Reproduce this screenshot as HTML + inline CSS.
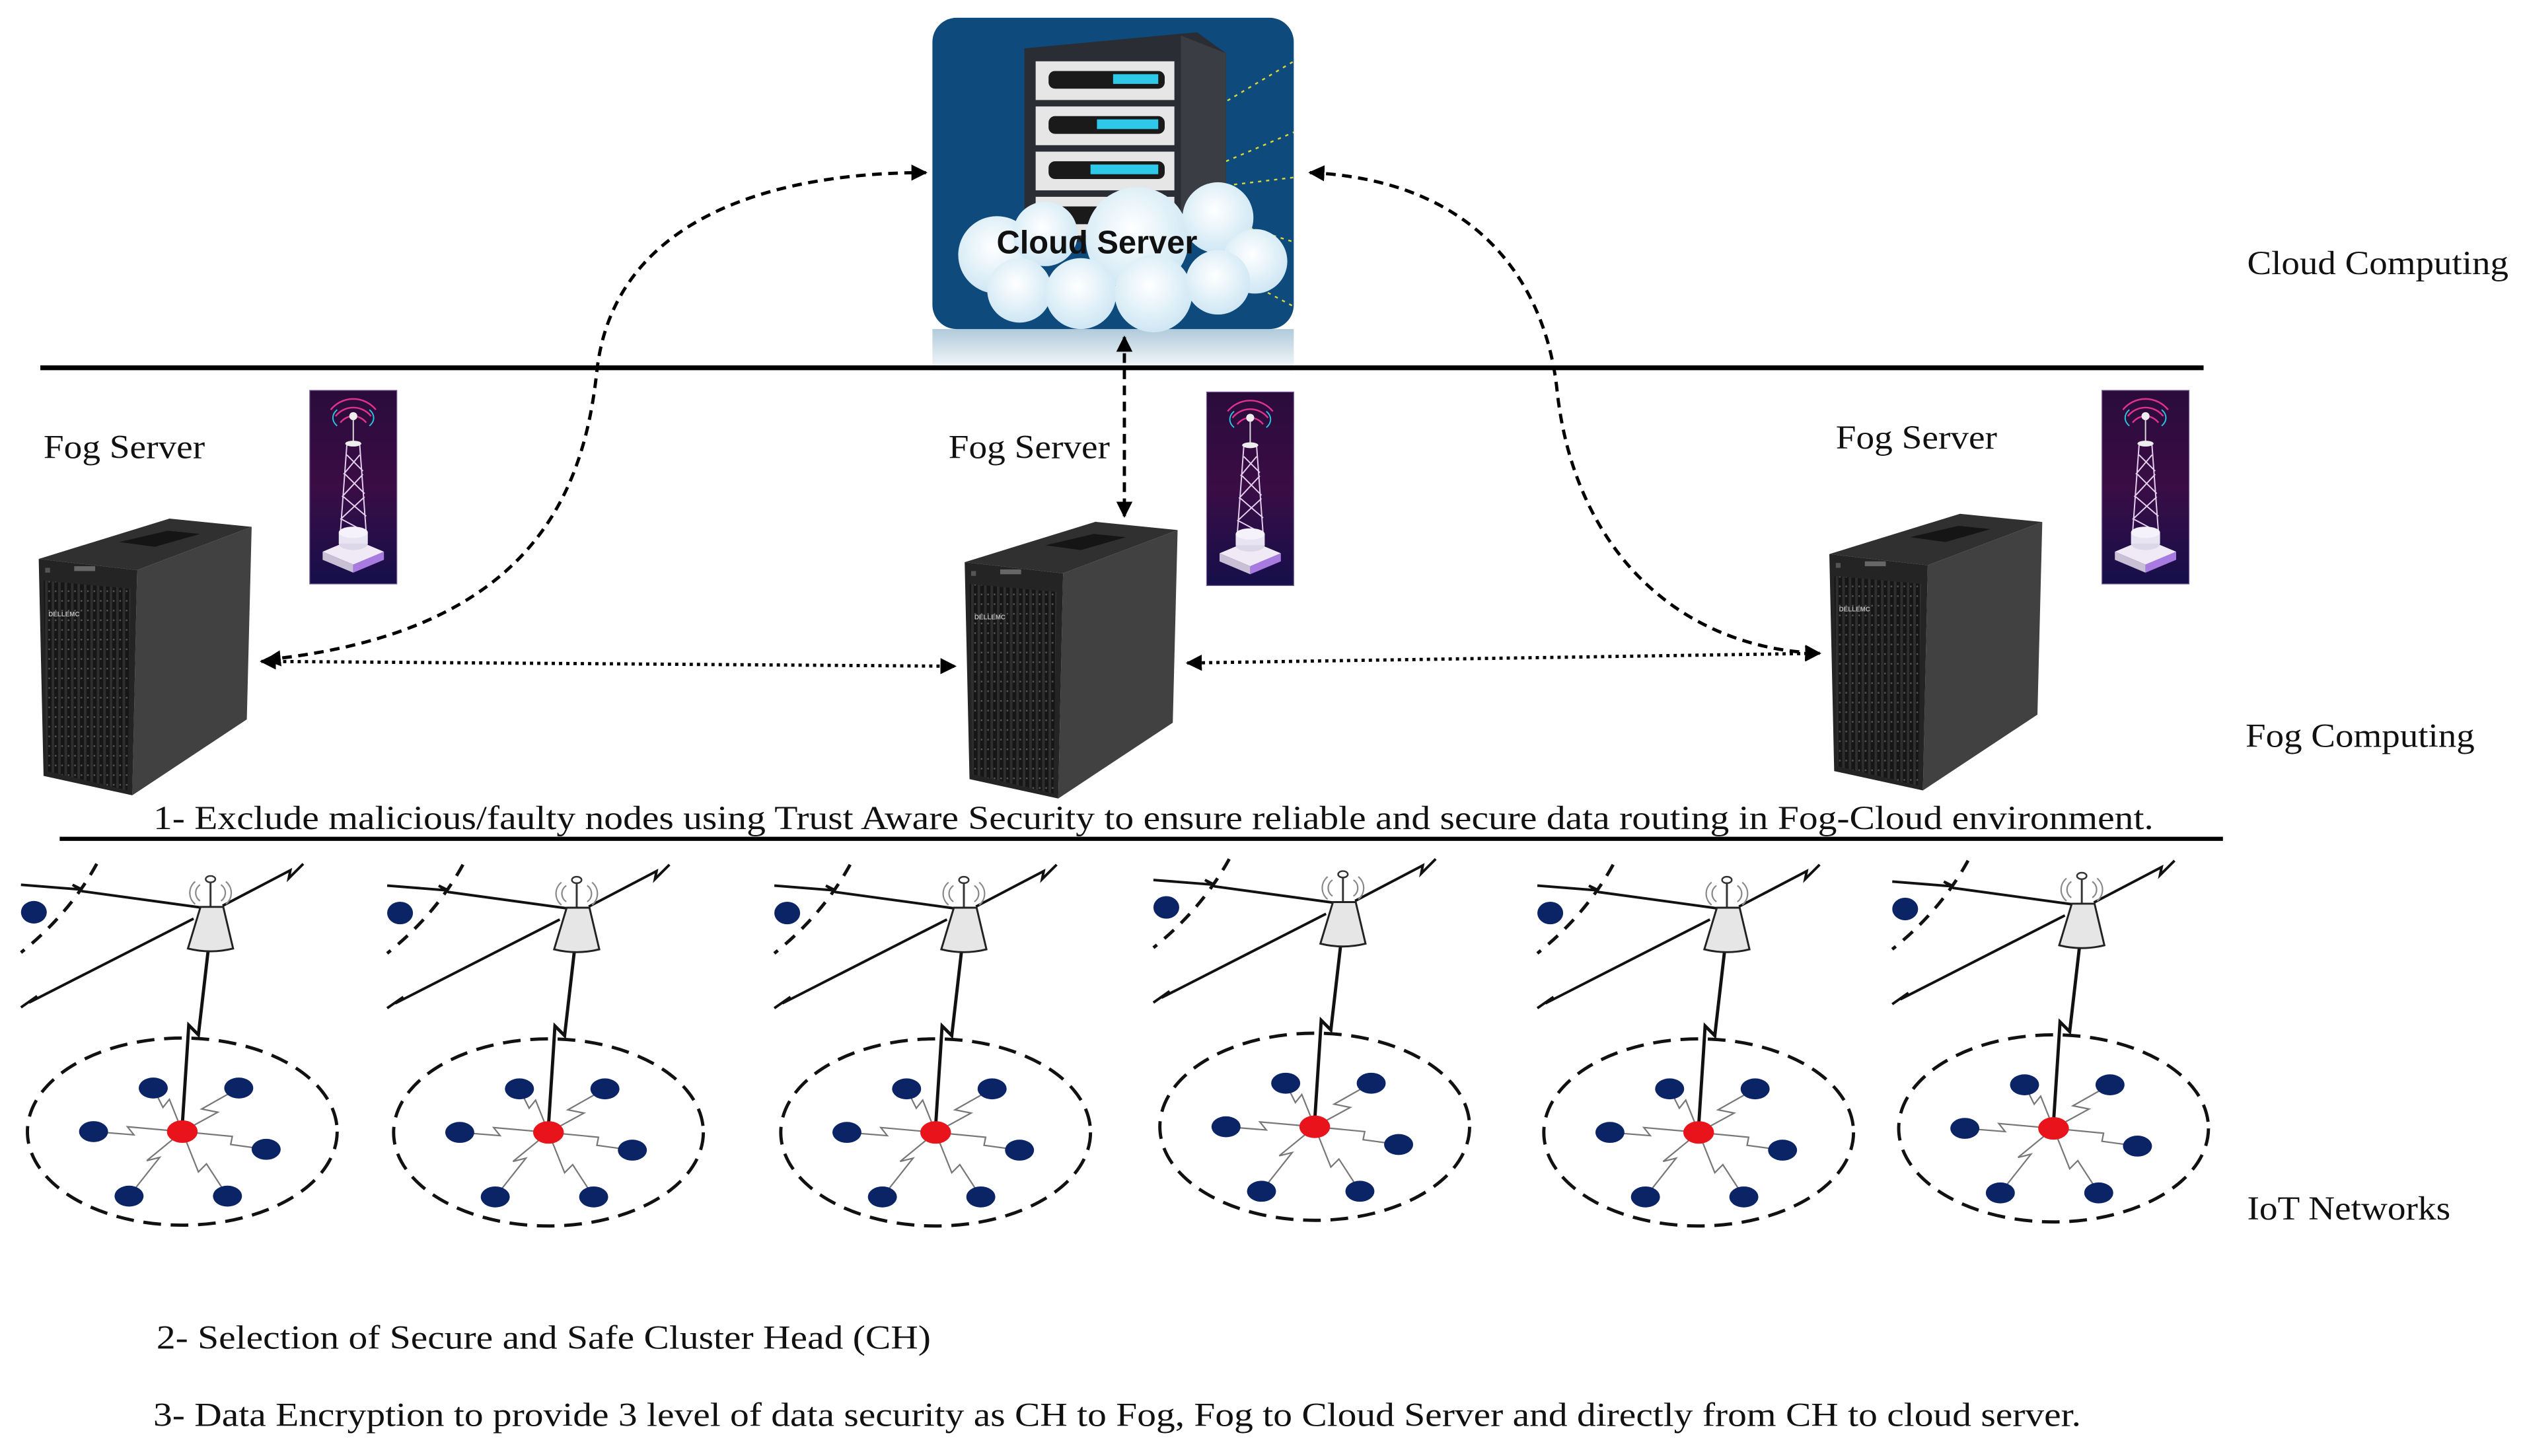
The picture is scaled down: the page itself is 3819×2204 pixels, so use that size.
<!DOCTYPE html>
<html><head><meta charset="utf-8"><style>html,body{margin:0;padding:0;background:#fff}svg{display:block}</style></head>
<body>
<svg xmlns="http://www.w3.org/2000/svg" width="3819" height="2204" viewBox="0 0 1564 902.6" preserveAspectRatio="none">
<defs>
<marker id="ah" viewBox="0 0 10 10" refX="9" refY="5" markerWidth="5" markerHeight="5" orient="auto-start-reverse"><path d="M0,0 L10,5 L0,10 z" fill="#000"/></marker>
<linearGradient id="tw" x1="0" y1="0" x2="0" y2="1"><stop offset="0" stop-color="#2a0b3c"/><stop offset="0.5" stop-color="#3a0d45"/><stop offset="1" stop-color="#150f4a"/></linearGradient>
<linearGradient id="refl" x1="0" y1="0" x2="0" y2="1"><stop offset="0" stop-color="#8fb4cc"/><stop offset="1" stop-color="#ffffff"/></linearGradient>
<radialGradient id="cl" cx="0.45" cy="0.4" r="0.7"><stop offset="0" stop-color="#ffffff"/><stop offset="1" stop-color="#c6e3f2"/></radialGradient>
<pattern id="grille" width="4" height="6" patternUnits="userSpaceOnUse"><rect width="4" height="6" fill="#161616"/><rect x="0" width="1.6" height="6" fill="#2e2e2e"/><rect x="2" y="2" width="1" height="1" fill="#555"/></pattern>

<g id="server">
  <polygon points="0,24.5 81,-0.5 132,4.6 61,31.4" fill="#303030"/>
  <polygon points="50,14 80,7 100,9 72,17" fill="#151515"/>
  <polygon points="61,31.4 132,4.6 129,124 58,171" fill="#414141"/>
  <polygon points="0,24.5 61,31.4 58,171 3,159" fill="#242424"/>
  <polygon points="3,38 57,43 55,168 5,156" fill="url(#grille)"/>
  <rect x="22" y="29" width="13" height="3" fill="#666"/>
  <rect x="4" y="30" width="3" height="3" fill="#555"/>
  <text x="6" y="60" font-family="Liberation Sans, sans-serif" font-size="4" fill="#bbb" font-weight="bold">DELLEMC</text>
</g>

<g id="tower">
  <rect x="0" y="0" width="54" height="120" fill="url(#tw)" stroke="#7a5a9a" stroke-width="0.5"/>
  <path d="M19,20 a10,10 0 0 1 16,0 M16,16 a14,14 0 0 1 22,0 M13,12 a18,18 0 0 1 28,0" stroke="#e0328c" stroke-width="1" fill="none"/>
  <path d="M17,22 a12,8 0 0 1 0,-10 M37,22 a12,8 0 0 0 0,-10" stroke="#29c5e0" stroke-width="0.8" fill="none"/>
  <circle cx="27" cy="16" r="2.5" fill="#eee"/>
  <line x1="27" y1="18" x2="27" y2="32" stroke="#ddd" stroke-width="0.8"/>
  <ellipse cx="27" cy="33" rx="5" ry="1.8" fill="#eee"/>
  <path d="M23,34 L19,88 M31,34 L35,88 M23,40 L33,50 M31,40 L21,52 M22,52 L34,64 M33,52 L20,66 M21,66 L35,78 M34,66 L19,80 M20,80 L35,88" stroke="#e6d0f0" stroke-width="0.8" fill="none"/>
  <polygon points="8,100 27,92 46,100 27,108" fill="#efeaf5"/>
  <polygon points="8,100 27,108 27,113 8,105" fill="#c9c0d6"/>
  <polygon points="46,100 27,108 27,113 46,105" fill="#a77be0"/>
  <ellipse cx="27" cy="95" rx="9" ry="4" fill="#dcd8ea"/>
  <rect x="18" y="88" width="18" height="7" fill="#e8e4f2"/>
  <ellipse cx="27" cy="88" rx="9" ry="3.5" fill="#f5f2fb"/>
</g>

<g id="cluster">
  <ellipse cx="0" cy="0" rx="96" ry="58" fill="none" stroke="#111" stroke-width="2" stroke-dasharray="11,6"/>
  <path d="M-53,-166 Q-70,-135 -100,-111" fill="none" stroke="#111" stroke-width="2" stroke-dasharray="8,6"/>
  <ellipse cx="-92" cy="-136" rx="8" ry="7" fill="#0b2466"/>
  <path d="M11,-139 L-62,-149 L-68,-153 L-62,-150 L-100,-153" fill="none" stroke="#111" stroke-width="1.6"/>
  <path d="M7,-132 L-95,-80 L-90,-84 L-100,-77" fill="none" stroke="#111" stroke-width="1.6"/>
  <path d="M25,-140 L67,-162 L66,-157 L75,-166" fill="none" stroke="#111" stroke-width="1.6"/>
  <path d="M16,-112 L10,-60 L4,-66 L3,-50 L0,-4" fill="none" stroke="#111" stroke-width="2"/>
  <path d="M11,-143 a6,6 0 0 1 0,-10 M8,-141 a9,9 0 0 1 0,-14 M24,-143 a6,6 0 0 0 0,-10 M27,-141 a9,9 0 0 0 0,-14" fill="none" stroke="#888" stroke-width="0.9"/>
  <line x1="17.5" y1="-155" x2="17.5" y2="-139" stroke="#333" stroke-width="1.2"/>
  <ellipse cx="17.5" cy="-156.5" rx="3" ry="2" fill="#fff" stroke="#333" stroke-width="1"/>
  <path d="M11.3,-139.3 L25.4,-139.3 L31.5,-113.5 Q17.5,-110 3.5,-113.5 Z" fill="#e6e6e6" stroke="#222" stroke-width="1.2"/>
  <g stroke="#777" stroke-width="0.9" fill="none">
    <path d="M-18,-27 L-12,-15 L-8,-20 L0,0"/>
    <path d="M35,-27 L12,-14 L22,-12 L0,0"/>
    <path d="M-55,0 L-30,2 L-34,-3 L0,0"/>
    <path d="M52,11 L30,8 L31,3 L0,0"/>
    <path d="M-33,40 L-14,16 L-22,18 L0,0"/>
    <path d="M28,40 L15,20 L10,25 L0,0"/>
  </g>
  <g fill="#0b2466">
    <ellipse cx="-18" cy="-27" rx="9" ry="6.5"/>
    <ellipse cx="35" cy="-27" rx="9" ry="6.5"/>
    <ellipse cx="-55" cy="0" rx="9" ry="6.5"/>
    <ellipse cx="52" cy="11" rx="9" ry="6.5"/>
    <ellipse cx="-33" cy="40" rx="9" ry="6.5"/>
    <ellipse cx="28" cy="40" rx="9" ry="6.5"/>
  </g>
  <ellipse cx="0" cy="0" rx="9.5" ry="7" fill="#e8131b"/>
</g>
</defs>

<rect x="0" y="0" width="1564" height="902.6" fill="#fff"/>

<!-- cloud server box -->
<rect x="578" y="204" width="224" height="28" fill="url(#refl)" opacity="0.7"/>
<rect x="578" y="11" width="224" height="193" rx="15" fill="#0e4a7c"/>
<g stroke="#d6d83a" stroke-width="1" stroke-dasharray="2,3" fill="none">
  <path d="M748,70 L802,38 M760,100 L802,82 M760,115 L802,110 M770,140 L802,150 M755,165 L802,190"/>
</g>
<polygon points="635,30 742,20 760,33 760,150 635,150" fill="#2a2d33"/>
<polygon points="732,22 760,33 760,150 732,150" fill="#3a3d44"/>
<rect x="642" y="38" width="86" height="24" fill="#e6e6e6"/>
<rect x="642" y="66" width="86" height="24" fill="#e6e6e6"/>
<rect x="642" y="94" width="86" height="24" fill="#e6e6e6"/>
<rect x="642" y="122" width="86" height="24" fill="#e6e6e6"/>
<rect x="650" y="44" width="72" height="11" rx="4" fill="#1a1a1a"/>
<rect x="650" y="72" width="72" height="11" rx="4" fill="#1a1a1a"/>
<rect x="650" y="100" width="72" height="11" rx="4" fill="#1a1a1a"/>
<rect x="650" y="128" width="72" height="11" rx="4" fill="#1a1a1a"/>
<rect x="690" y="46" width="28" height="6" fill="#2ec8e8"/>
<rect x="680" y="74" width="38" height="6" fill="#2ec8e8"/>
<rect x="676" y="102" width="42" height="6" fill="#2ec8e8"/>
<g fill="url(#cl)">
  <circle cx="618" cy="158" r="24"/>
  <circle cx="648" cy="145" r="20"/>
  <circle cx="705" cy="148" r="32"/>
  <circle cx="755" cy="135" r="22"/>
  <circle cx="778" cy="162" r="20"/>
  <circle cx="632" cy="180" r="20"/>
  <circle cx="670" cy="182" r="22"/>
  <circle cx="715" cy="182" r="24"/>
  <circle cx="755" cy="175" r="20"/>
</g>
<text x="680" y="157" text-anchor="middle" font-family="Liberation Sans, sans-serif" font-weight="bold" font-size="20" fill="#111">Cloud Server</text>

<!-- horizontal separators -->
<line x1="25" y1="228" x2="1366" y2="228" stroke="#000" stroke-width="3"/>
<line x1="37" y1="520" x2="1378" y2="520" stroke="#000" stroke-width="2.6"/>

<!-- labels -->
<g font-family="'Liberation Serif', 'Times New Roman', serif" font-size="21" fill="#111">
<text x="1393" y="170" textLength="162" lengthAdjust="spacingAndGlyphs">Cloud Computing</text>
<text x="1392" y="463" textLength="142" lengthAdjust="spacingAndGlyphs">Fog Computing</text>
<text x="1393" y="756" textLength="126" lengthAdjust="spacingAndGlyphs">IoT Networks</text>
<text x="27" y="284" textLength="100" lengthAdjust="spacingAndGlyphs">Fog Server</text>
<text x="588" y="284" textLength="100" lengthAdjust="spacingAndGlyphs">Fog Server</text>
<text x="1138" y="278" textLength="100" lengthAdjust="spacingAndGlyphs">Fog Server</text>
<text x="95" y="514" textLength="1240" lengthAdjust="spacingAndGlyphs">1- Exclude malicious/faulty nodes using Trust Aware Security to ensure reliable and secure data routing in Fog-Cloud environment.</text>
<text x="97" y="836" textLength="480" lengthAdjust="spacingAndGlyphs">2- Selection of Secure and Safe Cluster Head (CH)</text>
<text x="95" y="884" textLength="1195" lengthAdjust="spacingAndGlyphs">3- Data Encryption to provide 3 level of data security as CH to Fog, Fog to Cloud Server and directly from CH to cloud server.</text>
</g>

<!-- towers -->
<use href="#tower" x="192" y="242"/>
<use href="#tower" x="748" y="243"/>
<use href="#tower" x="1303" y="242"/>

<!-- servers -->
<use href="#server" x="24" y="322"/>
<use href="#server" x="598" y="324"/>
<use href="#server" x="1134" y="319"/>

<!-- connectors -->
<g fill="none" stroke="#000" stroke-width="2">
  <path d="M165,409 C330,392 362,305 370,230 C380,140 470,107 574,107" stroke-dasharray="6,4" marker-start="url(#ah)" marker-end="url(#ah)"/>
  <path d="M812,107 C920,112 958,180 965,240 C975,340 1040,402 1128,405" stroke-dasharray="6,4" marker-start="url(#ah)" marker-end="url(#ah)"/>
  <path d="M697,209 L697,320" stroke-dasharray="6,4" marker-start="url(#ah)" marker-end="url(#ah)"/>
  <path d="M162,410 L592,413" stroke-dasharray="2,2.5" marker-start="url(#ah)" marker-end="url(#ah)"/>
  <path d="M736,411 L1128,405" stroke-dasharray="2,2.5" marker-start="url(#ah)" marker-end="url(#ah)"/>
</g>

<!-- IoT clusters -->
<use href="#cluster" x="113" y="701.5"/>
<use href="#cluster" x="340" y="702"/>
<use href="#cluster" x="580" y="702"/>
<use href="#cluster" x="815" y="698.5"/>
<use href="#cluster" x="1053" y="702"/>
<use href="#cluster" x="1273" y="699.5"/>
</svg>
</body></html>
